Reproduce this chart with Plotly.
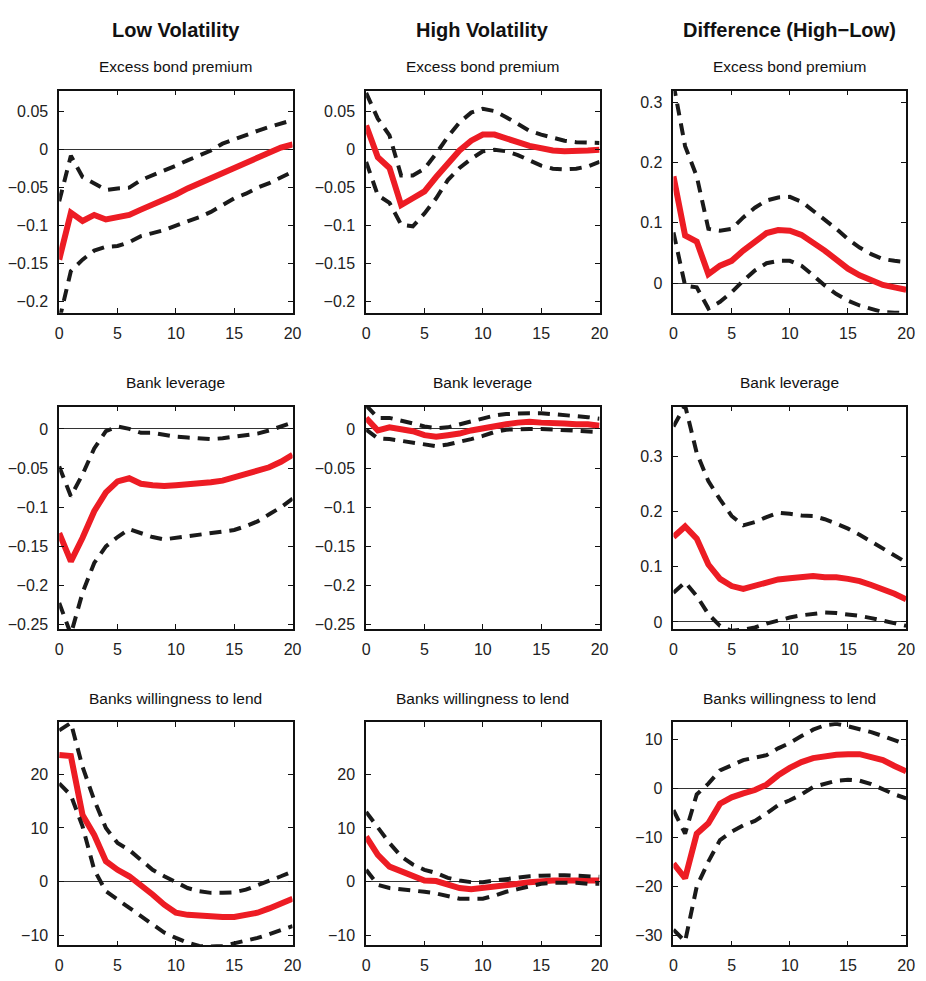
import plotly.graph_objects as go

# Horizon (quarters)
horizon = list(range(21))

# ---- Excess bond premium ----
ebp_low = [-0.145, -0.083, -0.094, -0.086, -0.092, -0.090, -0.086, -0.079, -0.073, -0.066, -0.059,
           -0.051, -0.044, -0.037, -0.031, -0.024, -0.017, -0.010, -0.002, 0.003, 0.007]
ebp_low_up = [-0.068, -0.008, -0.036, -0.045, -0.053, -0.051, -0.050, -0.040, -0.034, -0.027, -0.021,
              -0.014, -0.007, -0.001, 0.008, 0.014, 0.020, 0.025, 0.030, 0.034, 0.039]
ebp_low_lo = [-0.225, -0.160, -0.145, -0.133, -0.128, -0.127, -0.122, -0.114, -0.110, -0.106, -0.100,
              -0.095, -0.089, -0.082, -0.073, -0.064, -0.058, -0.050, -0.044, -0.037, -0.029]

ebp_high = [0.032, -0.010, -0.024, -0.073, -0.064, -0.055, -0.036, -0.018, -0.001, 0.012, 0.020,
            0.020, 0.016, 0.010, 0.005, 0.001, -0.001, -0.002, -0.002, -0.001, 0.000]
ebp_high_up = [0.075, 0.041, 0.019, -0.034, -0.034, -0.025, -0.005, 0.017, 0.036, 0.049, 0.054,
               0.051, 0.043, 0.034, 0.025, 0.020, 0.016, 0.012, 0.010, 0.009, 0.009]
ebp_high_lo = [-0.016, -0.060, -0.070, -0.099, -0.101, -0.084, -0.064, -0.040, -0.024, -0.012, -0.002,
               0.000, -0.002, -0.007, -0.014, -0.021, -0.025, -0.026, -0.025, -0.022, -0.016]

ebp_diff = [0.177, 0.079, 0.069, 0.015, 0.029, 0.037, 0.054, 0.069, 0.083, 0.088, 0.087,
            0.080, 0.068, 0.054, 0.039, 0.024, 0.013, 0.004, -0.003, -0.007, -0.011]
ebp_diff_up = [0.330, 0.227, 0.177, 0.090, 0.087, 0.090, 0.109, 0.125, 0.137, 0.142, 0.143,
               0.135, 0.120, 0.106, 0.090, 0.073, 0.059, 0.048, 0.040, 0.037, 0.035]
ebp_diff_lo = [0.084, -0.004, -0.007, -0.042, -0.031, -0.015, 0.004, 0.021, 0.033, 0.037, 0.037,
               0.029, 0.013, -0.004, -0.018, -0.029, -0.037, -0.043, -0.048, -0.049, -0.049]

# ---- Bank leverage ----
lev_low = [-0.133, -0.169, -0.139, -0.105, -0.081, -0.067, -0.063, -0.070, -0.072, -0.073, -0.072,
           -0.071, -0.070, -0.068, -0.066, -0.062, -0.058, -0.054, -0.049, -0.042, -0.033]
lev_low_up = [-0.048, -0.086, -0.058, -0.025, -0.003, 0.003, 0.000, -0.005, -0.005, -0.008, -0.010,
              -0.011, -0.012, -0.013, -0.012, -0.010, -0.008, -0.006, -0.002, 0.003, 0.008]
lev_low_lo = [-0.222, -0.262, -0.209, -0.171, -0.150, -0.138, -0.128, -0.133, -0.138, -0.141, -0.139,
              -0.137, -0.135, -0.134, -0.132, -0.129, -0.124, -0.118, -0.109, -0.100, -0.089]

lev_high = [0.014, -0.002, 0.002, 0.000, -0.003, -0.008, -0.010, -0.008, -0.006, -0.002, 0.001,
            0.004, 0.006, 0.008, 0.009, 0.008, 0.008, 0.007, 0.006, 0.006, 0.004]
lev_high_up = [0.030, 0.014, 0.014, 0.011, 0.007, 0.003, 0.001, 0.002, 0.006, 0.010, 0.014,
               0.017, 0.019, 0.020, 0.020, 0.020, 0.019, 0.018, 0.017, 0.015, 0.013]
lev_high_lo = [-0.001, -0.012, -0.013, -0.015, -0.018, -0.020, -0.022, -0.020, -0.017, -0.013, -0.009,
               -0.004, -0.001, 0.000, 0.000, 0.000, -0.001, -0.002, -0.003, -0.003, -0.004]

lev_diff = [0.154, 0.173, 0.151, 0.104, 0.078, 0.065, 0.060, 0.066, 0.073, 0.077, 0.079,
            0.081, 0.083, 0.081, 0.081, 0.078, 0.074, 0.067, 0.060, 0.051, 0.041]
lev_diff_up = [0.354, 0.392, 0.306, 0.255, 0.222, 0.192, 0.175, 0.181, 0.190, 0.198, 0.196,
               0.193, 0.192, 0.186, 0.178, 0.169, 0.158, 0.146, 0.134, 0.122, 0.108]
lev_diff_lo = [0.053, 0.072, 0.047, 0.014, -0.007, -0.016, -0.014, -0.010, -0.003, 0.003, 0.008,
               0.012, 0.015, 0.017, 0.016, 0.014, 0.011, 0.007, 0.002, -0.003, -0.007]

# ---- Banks willingness to lend ----
wil_low = [23.6, 23.4, 12.4, 8.7, 3.8, 2.2, 1.0, -0.6, -2.4, -4.3, -5.8,
           -6.2, -6.4, -6.6, -6.6, -6.6, -6.2, -5.8, -5.0, -4.1, -3.2]
wil_low_up = [28.2, 29.6, 21.4, 15.2, 10.0, 7.2, 5.9, 4.1, 2.2, 1.0, -0.2,
              -1.2, -1.8, -2.1, -2.1, -2.0, -1.5, -0.7, 0.1, 1.0, 1.9]
wil_low_lo = [18.3, 16.1, 10.3, 2.2, -1.8, -3.3, -4.9, -6.4, -8.0, -9.5, -10.5,
              -11.4, -12.0, -12.1, -12.0, -11.5, -11.1, -10.5, -9.8, -9.1, -8.3]

wil_high = [8.4, 5.0, 2.8, 1.9, 1.0, 0.2, 0.1, -0.6, -1.2, -1.4, -1.2,
            -1.0, -0.7, -0.4, -0.1, 0.1, 0.2, 0.2, 0.2, 0.2, 0.2]
wil_high_up = [13.0, 10.0, 7.2, 4.7, 3.2, 2.2, 1.6, 0.7, 0.2, -0.1, -0.1,
               0.2, 0.5, 0.8, 1.0, 1.1, 1.2, 1.2, 1.1, 1.0, 0.9]
wil_high_lo = [2.2, -0.6, -1.2, -1.4, -1.6, -1.9, -2.2, -2.7, -3.2, -3.2, -3.2,
               -2.6, -1.9, -1.4, -0.9, -0.4, -0.2, -0.2, -0.2, -0.4, -0.4]

wil_diff = [-15.3, -18.3, -9.2, -7.1, -3.1, -1.8, -1.0, -0.3, 0.8, 2.7, 4.2,
            5.4, 6.2, 6.6, 6.9, 7.0, 7.0, 6.4, 5.8, 4.6, 3.5]
wil_diff_up = [-4.4, -9.2, -1.2, 1.0, 3.7, 4.7, 5.8, 6.3, 6.8, 8.2, 9.3,
               10.7, 12.0, 12.9, 13.2, 12.7, 12.2, 11.5, 10.7, 9.9, 9.0]
wil_diff_lo = [-28.8, -31.2, -20.0, -14.9, -10.5, -8.8, -7.5, -6.6, -5.1, -3.4, -2.4,
               -1.2, 0.3, 1.0, 1.6, 1.8, 1.6, 0.9, -0.2, -1.2, -2.0]

# Column headers and panel titles
col_titles = ["Low Volatility", "High Volatility", "Difference (High\u2212Low)"]
row_titles = ["Excess bond premium", "Bank leverage", "Banks willingness to lend"]

# Tick values / labels
x_ticks = [0, 5, 10, 15, 20]
ebp_ticks = [0.05, 0, -0.05, -0.1, -0.15, -0.2]
ebp_labels = ["0.05", "0", "\u22120.05", "\u22120.1", "\u22120.15", "\u22120.2"]
lev_ticks = [0, -0.05, -0.1, -0.15, -0.2, -0.25]
lev_labels = ["0", "\u22120.05", "\u22120.1", "\u22120.15", "\u22120.2", "\u22120.25"]
diff_ticks = [0, 0.1, 0.2, 0.3]
diff_labels = ["0", "0.1", "0.2", "0.3"]
wil_ticks = [-10, 0, 10, 20]
wil_labels = ["\u221210", "0", "10", "20"]
wdiff_ticks = [-30, -20, -10, 0, 10]
wdiff_labels = ["\u221230", "\u221220", "\u221210", "0", "10"]

panels = [
    # (row, col, median, upper, lower, yrange, tickvals, ticktext)
    (0, 0, ebp_low, ebp_low_up, ebp_low_lo, [-0.215, 0.078], ebp_ticks, ebp_labels),
    (0, 1, ebp_high, ebp_high_up, ebp_high_lo, [-0.215, 0.078], ebp_ticks, ebp_labels),
    (0, 2, ebp_diff, ebp_diff_up, ebp_diff_lo, [-0.049, 0.319], diff_ticks, diff_labels),
    (1, 0, lev_low, lev_low_up, lev_low_lo, [-0.2555, 0.0284], lev_ticks, lev_labels),
    (1, 1, lev_high, lev_high_up, lev_high_lo, [-0.2555, 0.0284], lev_ticks, lev_labels),
    (1, 2, lev_diff, lev_diff_up, lev_diff_lo, [-0.013, 0.390], diff_ticks, diff_labels),
    (2, 0, wil_low, wil_low_up, wil_low_lo, [-11.9, 29.7], wil_ticks, wil_labels),
    (2, 1, wil_high, wil_high_up, wil_high_lo, [-11.9, 29.7], wil_ticks, wil_labels),
    (2, 2, wil_diff, wil_diff_up, wil_diff_lo, [-32.0, 13.5], wdiff_ticks, wdiff_labels),
]

W, H = 926, 981
col_px = [(56, 292.7), (367.3, 604), (679, 915)]
row_px = [(91, 314), (408.3, 631.7), (725.3, 949.3)]

FONT = "Liberation Sans, Arial, Helvetica, sans-serif"
RED = "#ED1C24"
BAND = "#1a1a1a"

fig = go.Figure()
layout = {}
for k, (r, c, med, up, lo, yr, tv, tt) in enumerate(panels):
    n = k + 1
    xa = "x" if n == 1 else f"x{n}"
    ya = "y" if n == 1 else f"y{n}"
    # point estimate first, error bands drawn on top
    fig.add_trace(go.Scatter(x=horizon, y=med, mode="lines", xaxis=xa, yaxis=ya,
                             line=dict(color=RED, width=6), showlegend=False, hoverinfo="skip"))
    for band in (up, lo):
        fig.add_trace(go.Scatter(x=horizon, y=band, mode="lines", xaxis=xa, yaxis=ya,
                                 line=dict(color=BAND, width=4, dash="12px,8px"),
                                 showlegend=False, hoverinfo="skip"))
    x0, x1 = col_px[c]
    y0, y1 = row_px[r]
    axis_common = dict(showline=True, linecolor="#111", linewidth=1.6, mirror="ticks",
                       ticks="inside", ticklen=5, tickcolor="#111", tickwidth=1,
                       showgrid=False, tickfont=dict(family=FONT, size=16, color="#222"))
    layout["xaxis" if n == 1 else f"xaxis{n}"] = dict(
        domain=[x0 / W, x1 / W], anchor=ya, range=[0, 20], tickvals=x_ticks,
        ticktext=[str(v) for v in x_ticks], zeroline=False, ticklabelstandoff=5, **axis_common)
    layout["yaxis" if n == 1 else f"yaxis{n}"] = dict(
        domain=[1 - y1 / H, 1 - y0 / H], anchor=xa, range=yr, tickvals=tv, ticktext=tt,
        zeroline=True, zerolinecolor="#333", zerolinewidth=1, ticklabelstandoff=6, **axis_common)

annotations = []
for c, title in enumerate(col_titles):
    xc = (col_px[c][0] + col_px[c][1]) / 2 / W
    annotations.append(dict(text=f"<b>{title}</b>", x=xc, y=1 - 30 / H, xref="paper", yref="paper",
                            showarrow=False, font=dict(family=FONT, size=20, color="#111"),
                            xanchor="center", yanchor="middle"))
    for r, sub in enumerate(row_titles):
        yc = row_px[r][0] - 24
        annotations.append(dict(text=sub, x=xc, y=1 - yc / H, xref="paper", yref="paper",
                                showarrow=False, font=dict(family=FONT, size=15.5, color="#111"),
                                xanchor="center", yanchor="middle"))

fig.update_layout(width=W, height=H, margin=dict(l=0, r=0, t=0, b=0),
                  paper_bgcolor="white", plot_bgcolor="white", annotations=annotations, **layout)

fig.write_html("out.html")
